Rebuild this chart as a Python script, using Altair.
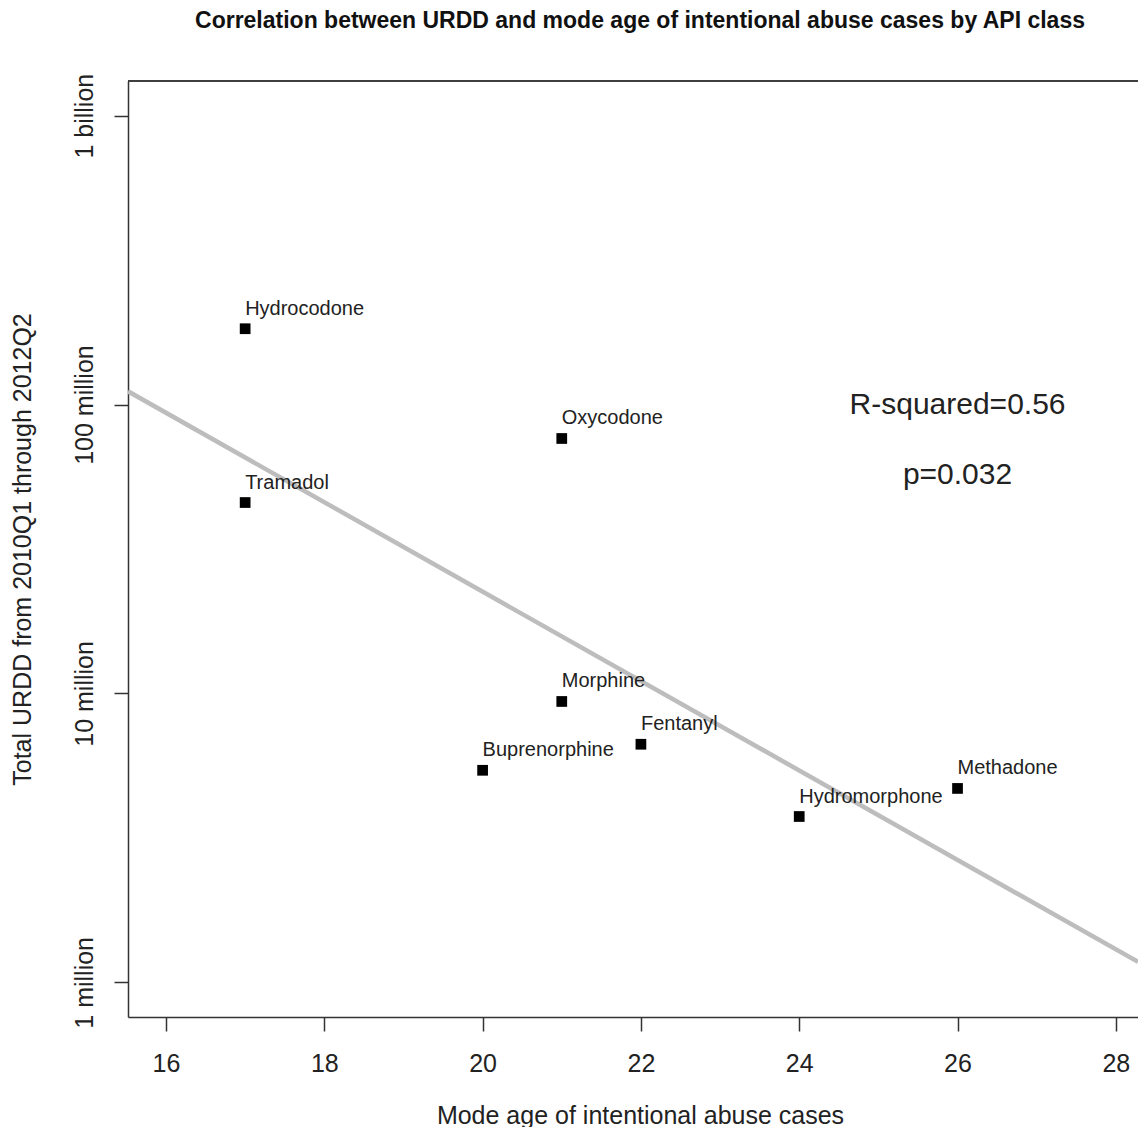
import altair as alt
import pandas as pd

# ---- data ----
drugs = ["Hydrocodone", "Oxycodone", "Tramadol", "Morphine", "Fentanyl",
         "Buprenorphine", "Methadone", "Hydromorphone"]
mode_age = [17, 21, 17, 21, 22, 20, 26, 24]
urdd = [183e6, 76.3e6, 45.8e6, 9.38e6, 6.67e6, 5.42e6, 4.69e6, 3.75e6]

x_ticks = [16, 18, 20, 22, 24, 26, 28]
y_tick_values = [1e6, 1e7, 1e8, 1e9]
y_tick_labels = ["1 million", "10 million", "100 million", "1 billion"]

stat_texts = ["R-squared=0.56", "p=0.032"]
stat_x = [26, 26]
stat_y = [1.0e8, 5.7e7]

x_domain = [15.52, 28.28]
y_domain = [10 ** 5.88, 10 ** 9.12]

df = pd.DataFrame({"drug": drugs, "age": mode_age, "urdd": urdd})
stats = pd.DataFrame({"text": stat_texts, "x": stat_x, "y": stat_y})

FONT = "Liberation Sans"
W, H = 1010, 936

label_expr = " : ".join(
    f"datum.value == {v:.0f} ? '{l}'" for v, l in zip(y_tick_values, y_tick_labels)
) + " : ''"

x_scale = alt.Scale(domain=x_domain, nice=False, zero=False)
y_scale = alt.Scale(type="log", domain=y_domain, nice=False)

x_enc = alt.X(
    "age:Q",
    scale=x_scale,
    axis=alt.Axis(
        values=x_ticks, format="d", title="Mode age of intentional abuse cases",
        grid=False, tickSize=14, labelPadding=32, labelBaseline="middle",
        labelFontSize=25, titleFontSize=25, titleFontWeight="normal",
        titleX=512, titleY=98, titleBaseline="middle", titleAlign="center",
        labelFlush=False,
    ),
)
y_enc = alt.Y(
    "urdd:Q",
    scale=y_scale,
    axis=alt.Axis(
        values=y_tick_values, labelExpr=label_expr,
        title="Total URDD from 2010Q1 through 2012Q2",
        grid=False, tickSize=14, labelPadding=30, labelAngle=270,
        labelAlign="center", labelBaseline="middle",
        labelFontSize=25, titleFontSize=25, titleFontWeight="normal",
        titleAngle=270, titleX=-106, titleY=468, titleBaseline="middle",
        titleAlign="center", labelFlush=False,
    ),
)

base = alt.Chart(df)

line = base.transform_calculate(
    logy="log(datum.urdd) / LN10"
).transform_regression(
    "age", "logy", extent=x_domain
).transform_calculate(
    urdd="pow(10, datum.logy)"
).mark_line(color="#bdbdbd", strokeWidth=4.5, clip=True).encode(x=x_enc, y=y_enc)

points = base.mark_point(
    shape="square", filled=True, size=115, color="black", opacity=1
).encode(x=x_enc, y=y_enc)

labels = base.mark_text(
    align="left", baseline="alphabetic", dx=0, dy=-14,
    fontSize=20, font=FONT, color="#222222"
).encode(x=x_enc, y=y_enc, text="drug:N")

stat_layer = alt.Chart(stats).mark_text(
    align="center", baseline="middle", fontSize=30, font=FONT, color="#222222"
).encode(
    x=alt.X("x:Q", scale=x_scale),
    y=alt.Y("y:Q", scale=y_scale),
    text="text:N",
)

# top frame line of the plot box (right side runs off the page in the reference)
top_frame = alt.Chart(stats).mark_rule(color="#333333", strokeWidth=1.5).encode(
    x=alt.value(0), x2=alt.value(W + 10), y=alt.value(0)
)

chart = alt.layer(line, points, labels, stat_layer, top_frame).properties(
    width=W, height=H,
    title=alt.TitleParams(
        "Correlation between URDD and mode age of intentional abuse cases by API class",
        fontSize=23, font=FONT, fontWeight="bold", anchor="middle",
        baseline="alphabetic", offset=22, dx=7, color="#111111",
    ),
    autosize=alt.AutoSizeParams(type="none"),
    padding={"left": 120, "top": 73, "right": 0, "bottom": 110},
).configure_view(
    stroke="transparent", strokeWidth=0
).configure_axis(
    domainColor="#333333", domainWidth=1.5, tickColor="#333333", tickWidth=1.5,
    labelFont=FONT, titleFont=FONT, labelColor="#222222", titleColor="#222222",
)

chart.save("out.html", embed_options={"renderer": "svg", "actions": False})
